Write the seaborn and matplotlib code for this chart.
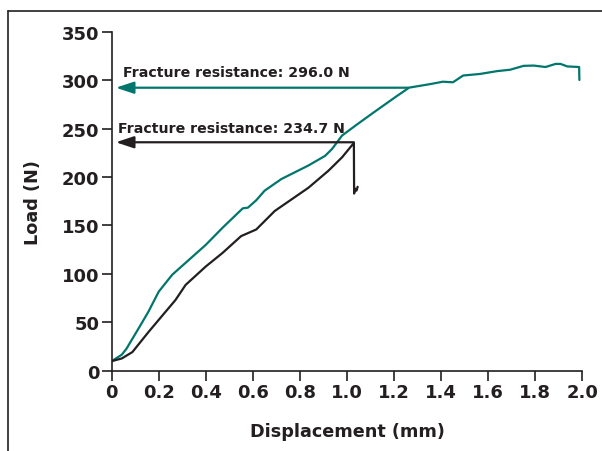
import matplotlib
matplotlib.use("Agg")
import matplotlib.pyplot as plt
import seaborn as sns
import pandas as pd
from matplotlib.lines import Line2D

# ---- data ----
teal_x = [0.0, 0.043, 0.063, 0.114, 0.156, 0.2, 0.257, 0.329, 0.4, 0.471, 0.557, 0.579,
          0.614, 0.65, 0.721, 0.836, 0.907, 0.936, 0.979, 1.04, 1.114, 1.207, 1.264,
          1.35, 1.407, 1.45, 1.493, 1.564, 1.636, 1.693, 1.75, 1.793, 1.843, 1.886,
          1.907, 1.936, 1.986, 1.987]
teal_y = [9.7, 16.4, 22.6, 43.4, 60.8, 81.6, 99.0, 114.6, 130.0, 147.6, 167.7, 168.4,
          176.0, 186.0, 198.0, 212.0, 222.0, 229.0, 243.0, 254.0, 267.0, 283.0, 292.5,
          296.0, 298.6, 298.0, 305.0, 306.6, 309.5, 311.0, 315.0, 315.3, 313.8, 317.0,
          317.0, 314.4, 313.8, 300.4]

black_x = [0.0, 0.043, 0.088, 0.157, 0.229, 0.271, 0.314, 0.4, 0.471, 0.55, 0.614,
           0.693, 0.836, 0.921, 0.979, 1.029, 1.03, 1.035, 1.04, 1.045]
black_y = [9.7, 12.5, 19.1, 40.0, 60.8, 72.9, 88.5, 107.6, 121.6, 139.0, 145.8,
           165.0, 189.0, 206.6, 220.5, 235.3, 183.0, 188.0, 186.0, 190.0]

fracture_labels = ["Fracture resistance: 296.0 N", "Fracture resistance: 234.7 N"]
arrow_y = [292.4, 236.0]
arrow_start_x = [1.26, 1.029]
xticks = [0, 0.2, 0.4, 0.6, 0.8, 1.0, 1.2, 1.4, 1.6, 1.8, 2.0]
xtick_labels = ["0", "0.2", "0.4", "0.6", "0.8", "1.0", "1.2", "1.4", "1.6", "1.8", "2.0"]
yticks = [0, 50, 100, 150, 200, 250, 300, 350]

TEAL = "#00766d"
BLACK = "#231f20"

sns.set_theme(style="white")
plt.rcParams['font.family'] = ['DejaVu Sans']

fig = plt.figure(figsize=(6.02, 4.52), dpi=100)
ax = fig.add_axes([0.1855, 0.178, 0.782, 0.749])

df_t = pd.DataFrame({"x": teal_x, "y": teal_y})
df_b = pd.DataFrame({"x": black_x, "y": black_y})
sns.lineplot(data=df_t, x="x", y="y", ax=ax, color=TEAL, lw=1.6, sort=False, estimator=None)
sns.lineplot(data=df_b, x="x", y="y", ax=ax, color=BLACK, lw=1.6, sort=False, estimator=None)

ax.set_xlim(0, 2.0)
ax.set_ylim(0, 350)
ax.set_xticks(xticks)
ax.set_xticklabels(xtick_labels)
ax.set_yticks(yticks)
for s in ["top", "right"]:
    ax.spines[s].set_visible(False)
for s in ["left", "bottom"]:
    ax.spines[s].set_color(BLACK)
    ax.spines[s].set_linewidth(1.2)
ax.tick_params(axis="both", direction="out", length=7, width=1.2, color=BLACK,
               labelsize=13, labelcolor=BLACK, pad=2, left=True, bottom=True)
for lab in ax.get_xticklabels() + ax.get_yticklabels():
    lab.set_fontweight("bold")

ax.set_xlabel("Displacement (mm)", fontsize=12.7, fontweight="bold", color=BLACK)
ax.set_ylabel("Load (N)", fontsize=12.7, fontweight="bold", color=BLACK)
ax.xaxis.set_label_coords(0.5, -0.151)
ax.yaxis.set_label_coords(-0.149, 0.5)

colors = [TEAL, BLACK]
text_pos = [(0.047, 309), (0.028, 251)]
for lab, yv, xs, c, tp in zip(fracture_labels, arrow_y, arrow_start_x, colors, text_pos):
    ax.annotate("", xy=(0.018, yv), xytext=(xs, yv),
                arrowprops=dict(arrowstyle="-|>,head_length=0.9,head_width=0.3",
                                color=c, lw=1.6, shrinkA=0, shrinkB=0))
    ax.text(tp[0], tp[1], lab, fontsize=10.2, fontweight="bold", color=BLACK,
            va="center", ha="left")

# outer frame (top and left edges)
fig.add_artist(Line2D([8/602, 8/602], [0, 1 - 12/452], transform=fig.transFigure,
                      color=BLACK, lw=1.2))
fig.add_artist(Line2D([8/602, 1], [1 - 12/452, 1 - 12/452], transform=fig.transFigure,
                      color=BLACK, lw=1.2))

fig.savefig("out.png", dpi=100)
